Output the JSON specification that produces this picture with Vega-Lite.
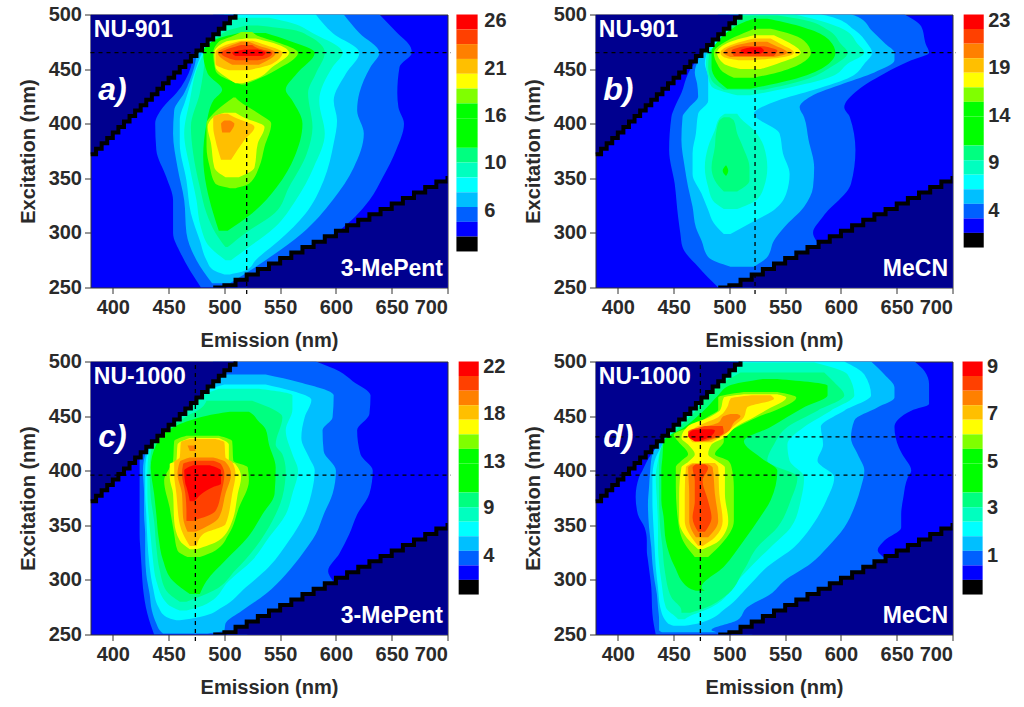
{"$schema":"https://vega.github.io/schema/vega-lite/v6.json","background":"white","padding":{"left":17.5,"top":3.5,"right":0,"bottom":0},
"config":{"view":{"fill":"#0000ff","stroke":"#333333","strokeWidth":1},"axis":{"grid":false,"domain":false,"labelFont":"Liberation Sans","titleFont":"Liberation Sans","labelFontWeight":"bold","titleFontWeight":"bold","labelFontSize":20,"titleFontSize":20,"labelColor":"#2a2a2a","titleColor":"#2a2a2a","tickColor":"#333333"},"text":{"font":"Liberation Sans"}},
"datasets":{
"ul":[{"em":380,"exc":372},{"em":385,"exc":377},{"em":390,"exc":382},{"em":395,"exc":387},{"em":400,"exc":392},{"em":405,"exc":397},{"em":410,"exc":402},{"em":415,"exc":407},{"em":420,"exc":412},{"em":425,"exc":417},{"em":430,"exc":422},{"em":435,"exc":427},{"em":440,"exc":432},{"em":445,"exc":437},{"em":450,"exc":442},{"em":455,"exc":447},{"em":460,"exc":452},{"em":465,"exc":457},{"em":470,"exc":462},{"em":475,"exc":467},{"em":480,"exc":472},{"em":485,"exc":477},{"em":490,"exc":482},{"em":495,"exc":487},{"em":500,"exc":492},{"em":505,"exc":497},{"em":510,"exc":502}],
"lr":[{"em":490,"exc":250},{"em":500,"exc":252},{"em":510,"exc":257},{"em":520,"exc":262},{"em":530,"exc":267},{"em":540,"exc":272},{"em":550,"exc":277},{"em":560,"exc":282},{"em":570,"exc":287},{"em":580,"exc":292},{"em":590,"exc":297},{"em":600,"exc":302},{"em":610,"exc":307},{"em":620,"exc":312},{"em":630,"exc":317},{"em":640,"exc":322},{"em":650,"exc":327},{"em":660,"exc":332},{"em":670,"exc":337},{"em":680,"exc":342},{"em":690,"exc":347},{"em":700,"exc":352}],
"bar237":[{"s":12,"hi":500,"lo":486.4},{"s":11,"hi":486.4,"lo":472.9},{"s":10,"hi":472.9,"lo":459.3},{"s":9,"hi":459.3,"lo":445.7},{"s":8,"hi":445.7,"lo":432.2},{"s":7,"hi":432.2,"lo":418.6},{"s":6,"hi":418.6,"lo":405},{"s":6,"hi":405,"lo":391.5},{"s":6,"hi":391.5,"lo":377.9},{"s":5,"hi":377.9,"lo":364.4},{"s":4,"hi":364.4,"lo":350.8},{"s":3,"hi":350.8,"lo":337.2},{"s":2,"hi":337.2,"lo":323.7},{"s":1,"hi":323.7,"lo":310.1},{"s":0.5,"hi":310.1,"lo":296.6},{"s":0,"hi":296.6,"lo":283}],
"bar233":[{"s":12,"hi":500,"lo":486.7},{"s":11,"hi":486.7,"lo":473.3},{"s":10,"hi":473.3,"lo":460},{"s":9,"hi":460,"lo":446.7},{"s":8,"hi":446.7,"lo":433.3},{"s":7,"hi":433.3,"lo":420},{"s":6,"hi":420,"lo":406.7},{"s":6,"hi":406.7,"lo":393.3},{"s":6,"hi":393.3,"lo":380},{"s":5,"hi":380,"lo":366.6},{"s":4,"hi":366.6,"lo":353.3},{"s":3,"hi":353.3,"lo":340},{"s":2,"hi":340,"lo":326.6},{"s":1,"hi":326.6,"lo":313.3},{"s":0.5,"hi":313.3,"lo":300},{"s":0,"hi":300,"lo":286.6}],
"a":[
{"s":1,"y":250,"lo":479,"hi":520},{"s":1,"y":281,"lo":461,"hi":570},{"s":1,"y":300,"lo":454,"hi":600},{"s":1,"y":330,"lo":454,"hi":630},{"s":1,"y":351,"lo":448,"hi":642},{"s":1,"y":376,"lo":439,"hi":654},{"s":1,"y":400,"lo":438,"hi":661},{"s":1,"y":415,"lo":445,"hi":656},{"s":1,"y":428,"lo":457,"hi":655},{"s":1,"y":452,"lo":470,"hi":657},{"s":1,"y":465,"lo":472,"hi":668},{"s":1,"y":470,"lo":475,"hi":667},{"s":1,"y":483,"lo":480,"hi":655},{"s":1,"y":500,"lo":490,"hi":639},
{"s":2,"y":254,"lo":489,"hi":505},{"s":2,"y":275,"lo":475,"hi":537},{"s":2,"y":300,"lo":466,"hi":570},{"s":2,"y":330,"lo":464,"hi":597},{"s":2,"y":360,"lo":458,"hi":616},{"s":2,"y":391,"lo":454,"hi":625},{"s":2,"y":412,"lo":455,"hi":619},{"s":2,"y":428,"lo":464,"hi":621},{"s":2,"y":452,"lo":473,"hi":631},{"s":2,"y":465,"lo":476,"hi":639},{"s":2,"y":483,"lo":485,"hi":621},{"s":2,"y":500,"lo":495,"hi":607},
{"s":3,"y":262,"lo":500,"hi":505},{"s":3,"y":266,"lo":490,"hi":520},{"s":3,"y":275,"lo":484,"hi":528},{"s":3,"y":293,"lo":478,"hi":549},{"s":3,"y":318,"lo":470,"hi":573},{"s":3,"y":348,"lo":466,"hi":589},{"s":3,"y":382,"lo":460,"hi":598},{"s":3,"y":403,"lo":460,"hi":601},{"s":3,"y":421,"lo":465,"hi":598},{"s":3,"y":446,"lo":473,"hi":609},{"s":3,"y":465,"lo":480,"hi":621},{"s":3,"y":483,"lo":490,"hi":597},{"s":3,"y":500,"lo":500,"hi":582},
{"s":4,"y":275,"lo":501,"hi":506},{"s":4,"y":287,"lo":487,"hi":522},{"s":4,"y":305,"lo":479,"hi":545},{"s":4,"y":330,"lo":475,"hi":564},{"s":4,"y":360,"lo":469,"hi":580},{"s":4,"y":391,"lo":464,"hi":590},{"s":4,"y":421,"lo":469,"hi":585},{"s":4,"y":452,"lo":476,"hi":597},{"s":4,"y":465,"lo":482,"hi":606},{"s":4,"y":483,"lo":495,"hi":579},{"s":4,"y":492,"lo":500,"hi":561},{"s":4,"y":497,"lo":505,"hi":540},
{"s":5,"y":287,"lo":501,"hi":503},{"s":5,"y":300,"lo":492,"hi":519},{"s":5,"y":318,"lo":484,"hi":545},{"s":5,"y":342,"lo":478,"hi":558},{"s":5,"y":373,"lo":472,"hi":574},{"s":5,"y":397,"lo":470,"hi":579},{"s":5,"y":428,"lo":478,"hi":575},{"s":5,"y":446,"lo":481,"hi":582},{"s":5,"y":465,"lo":484,"hi":590},{"s":5,"y":480,"lo":495,"hi":576},{"s":5,"y":486,"lo":505,"hi":561},{"s":5,"y":490,"lo":520,"hi":530},
{"s":6,"y":302,"lo":495,"hi":503},{"s":6,"y":318,"lo":490,"hi":525},{"s":6,"y":342,"lo":484,"hi":547},{"s":6,"y":370,"lo":481,"hi":563},{"s":6,"y":400,"lo":484,"hi":570},{"s":6,"y":421,"lo":490,"hi":561},{"s":6,"y":431,"lo":498,"hi":555},{"s":6,"y":446,"lo":485,"hi":565},{"s":6,"y":465,"lo":481,"hi":581},{"s":6,"y":476,"lo":490,"hi":558},{"s":6,"y":483,"lo":513,"hi":537},
{"s":7,"y":436,"lo":515,"hi":518},{"s":7,"y":440,"lo":504,"hi":528},{"s":7,"y":449,"lo":492,"hi":546},{"s":7,"y":465,"lo":490,"hi":566},{"s":7,"y":475,"lo":495,"hi":546},{"s":7,"y":480,"lo":507,"hi":531},{"s":7,"y":484,"lo":515,"hi":525},
{"s":7.5,"y":341,"lo":505,"hi":510},{"s":7.5,"y":345,"lo":492,"hi":522},{"s":7.5,"y":360,"lo":487,"hi":531},{"s":7.5,"y":379,"lo":484,"hi":536},{"s":7.5,"y":400,"lo":484,"hi":542},{"s":7.5,"y":409,"lo":490,"hi":531},{"s":7.5,"y":421,"lo":504,"hi":513},{"s":7.5,"y":424,"lo":508,"hi":510},
{"s":8,"y":437,"lo":510,"hi":516},{"s":8,"y":441,"lo":504,"hi":528},{"s":8,"y":452,"lo":492,"hi":543},{"s":8,"y":465,"lo":491,"hi":558},{"s":8,"y":475,"lo":501,"hi":540},{"s":8,"y":478,"lo":519,"hi":528},
{"s":8.5,"y":351,"lo":501,"hi":513},{"s":8.5,"y":360,"lo":491,"hi":527},{"s":8.5,"y":382,"lo":488,"hi":530},{"s":8.5,"y":397,"lo":485,"hi":536},{"s":8.5,"y":406,"lo":490,"hi":517},{"s":8.5,"y":410,"lo":500,"hi":510},
{"s":9,"y":449,"lo":504,"hi":521},{"s":9,"y":455,"lo":492,"hi":543},{"s":9,"y":465,"lo":492,"hi":552},{"s":9,"y":473,"lo":504,"hi":534},{"s":9,"y":476,"lo":515,"hi":525},
{"s":9.5,"y":367,"lo":497,"hi":506},{"s":9.5,"y":385,"lo":492,"hi":518},{"s":9.5,"y":397,"lo":490,"hi":527},{"s":9.5,"y":406,"lo":490,"hi":509},{"s":9.5,"y":409,"lo":497,"hi":503},
{"s":10,"y":454,"lo":507,"hi":531},{"s":10,"y":465,"lo":494,"hi":546},{"s":10,"y":472,"lo":507,"hi":529},{"s":10,"y":475,"lo":515,"hi":522},
{"s":10.5,"y":392,"lo":498,"hi":505},{"s":10.5,"y":400,"lo":497,"hi":509},{"s":10.5,"y":403,"lo":500,"hi":505},
{"s":11,"y":458,"lo":510,"hi":530},{"s":11,"y":461,"lo":501,"hi":540},{"s":11,"y":465,"lo":497,"hi":543},{"s":11,"y":469,"lo":505,"hi":530},{"s":11,"y":472,"lo":515,"hi":525},
{"s":12,"y":462,"lo":510,"hi":534},{"s":12,"y":465,"lo":507,"hi":537},{"s":12,"y":468,"lo":518,"hi":530}],
"b":[
{"s":1,"y":250,"lo":490,"hi":520},{"s":1,"y":269,"lo":472,"hi":560},{"s":1,"y":287,"lo":458,"hi":580},{"s":1,"y":300,"lo":456,"hi":575},{"s":1,"y":315,"lo":454,"hi":584},{"s":1,"y":345,"lo":451,"hi":609},{"s":1,"y":376,"lo":446,"hi":613},{"s":1,"y":406,"lo":448,"hi":608},{"s":1,"y":415,"lo":451,"hi":603},{"s":1,"y":428,"lo":457,"hi":612},{"s":1,"y":446,"lo":463,"hi":639},{"s":1,"y":458,"lo":470,"hi":663},{"s":1,"y":465,"lo":472,"hi":679},{"s":1,"y":473,"lo":475,"hi":676},{"s":1,"y":489,"lo":480,"hi":672},{"s":1,"y":500,"lo":490,"hi":657},
{"s":2,"y":269,"lo":501,"hi":522},{"s":2,"y":278,"lo":481,"hi":534},{"s":2,"y":293,"lo":475,"hi":540},{"s":2,"y":305,"lo":470,"hi":549},{"s":2,"y":324,"lo":467,"hi":567},{"s":2,"y":342,"lo":463,"hi":575},{"s":2,"y":360,"lo":460,"hi":576},{"s":2,"y":385,"lo":457,"hi":571},{"s":2,"y":406,"lo":458,"hi":567},{"s":2,"y":415,"lo":464,"hi":563},{"s":2,"y":425,"lo":472,"hi":573},{"s":2,"y":437,"lo":471,"hi":603},{"s":2,"y":447,"lo":469,"hi":630},{"s":2,"y":458,"lo":472,"hi":648},{"s":2,"y":465,"lo":475,"hi":648},{"s":2,"y":473,"lo":480,"hi":640},{"s":2,"y":485,"lo":485,"hi":628},{"s":2,"y":498,"lo":490,"hi":615},{"s":2,"y":500,"lo":490,"hi":609},
{"s":3,"y":299,"lo":495,"hi":501},{"s":3,"y":309,"lo":486,"hi":519},{"s":3,"y":321,"lo":481,"hi":540},{"s":3,"y":336,"lo":475,"hi":551},{"s":3,"y":354,"lo":467,"hi":554},{"s":3,"y":373,"lo":467,"hi":548},{"s":3,"y":391,"lo":470,"hi":545},{"s":3,"y":409,"lo":472,"hi":522},{"s":3,"y":421,"lo":481,"hi":543},{"s":3,"y":431,"lo":481,"hi":576},{"s":3,"y":443,"lo":481,"hi":609},{"s":3,"y":455,"lo":478,"hi":621},{"s":3,"y":465,"lo":480,"hi":628},{"s":3,"y":473,"lo":485,"hi":624},{"s":3,"y":486,"lo":490,"hi":612},{"s":3,"y":498,"lo":500,"hi":591},{"s":3,"y":500,"lo":500,"hi":582},
{"s":4,"y":322,"lo":495,"hi":507},{"s":4,"y":330,"lo":485,"hi":524},{"s":4,"y":342,"lo":481,"hi":531},{"s":4,"y":360,"lo":478,"hi":534},{"s":4,"y":379,"lo":481,"hi":531},{"s":4,"y":394,"lo":487,"hi":522},{"s":4,"y":405,"lo":491,"hi":510},{"s":4,"y":409,"lo":496,"hi":507},
{"s":4.5,"y":426,"lo":507,"hi":519},{"s":4.5,"y":434,"lo":484,"hi":558},{"s":4.5,"y":443,"lo":481,"hi":591},{"s":4.5,"y":455,"lo":479,"hi":606},{"s":4.5,"y":465,"lo":480,"hi":621},{"s":4.5,"y":473,"lo":490,"hi":615},{"s":4.5,"y":486,"lo":495,"hi":603},{"s":4.5,"y":495,"lo":505,"hi":579},{"s":4.5,"y":500,"lo":510,"hi":558},
{"s":5,"y":338,"lo":495,"hi":507},{"s":5,"y":348,"lo":487,"hi":518},{"s":5,"y":360,"lo":484,"hi":518},{"s":5,"y":379,"lo":487,"hi":512},{"s":5,"y":391,"lo":488,"hi":507},{"s":5,"y":403,"lo":491,"hi":504},{"s":5,"y":406,"lo":495,"hi":500},
{"s":5.5,"y":431,"lo":495,"hi":531},{"s":5.5,"y":440,"lo":484,"hi":567},{"s":5.5,"y":452,"lo":481,"hi":591},{"s":5.5,"y":465,"lo":482,"hi":606},{"s":5.5,"y":473,"lo":490,"hi":600},{"s":5.5,"y":486,"lo":500,"hi":588},{"s":5.5,"y":495,"lo":508,"hi":567},{"s":5.5,"y":499,"lo":510,"hi":543},
{"s":6,"y":352,"lo":497,"hi":497},{"s":6,"y":357,"lo":494,"hi":499},{"s":6,"y":362,"lo":497,"hi":497},
{"s":6.5,"y":432,"lo":498,"hi":519},{"s":6.5,"y":440,"lo":489,"hi":555},{"s":6.5,"y":452,"lo":484,"hi":585},{"s":6.5,"y":465,"lo":484,"hi":595},{"s":6.5,"y":476,"lo":490,"hi":590},{"s":6.5,"y":486,"lo":501,"hi":573},{"s":6.5,"y":493,"lo":513,"hi":549},{"s":6.5,"y":496,"lo":522,"hi":534},
{"s":7,"y":442,"lo":504,"hi":522},{"s":7,"y":447,"lo":495,"hi":543},{"s":7,"y":455,"lo":489,"hi":564},{"s":7,"y":465,"lo":486,"hi":573},{"s":7,"y":476,"lo":498,"hi":567},{"s":7,"y":483,"lo":513,"hi":552},{"s":7,"y":487,"lo":522,"hi":537},
{"s":8,"y":450,"lo":510,"hi":528},{"s":8,"y":455,"lo":495,"hi":543},{"s":8,"y":465,"lo":489,"hi":564},{"s":8,"y":475,"lo":501,"hi":552},{"s":8,"y":481,"lo":522,"hi":540},
{"s":9,"y":458,"lo":508,"hi":520},{"s":9,"y":461,"lo":495,"hi":549},{"s":9,"y":465,"lo":492,"hi":558},{"s":9,"y":473,"lo":504,"hi":546},{"s":9,"y":478,"lo":522,"hi":537},
{"s":10,"y":461,"lo":501,"hi":540},{"s":10,"y":465,"lo":495,"hi":552},{"s":10,"y":472,"lo":507,"hi":540},{"s":10,"y":475,"lo":522,"hi":534},
{"s":11,"y":462,"lo":504,"hi":540},{"s":11,"y":467,"lo":502,"hi":543},{"s":11,"y":471,"lo":513,"hi":531},
{"s":12,"y":464,"lo":513,"hi":528},{"s":12,"y":467,"lo":510,"hi":531},{"s":12,"y":470,"lo":519,"hi":528}],
"c":[
{"s":1,"y":250,"lo":437,"hi":520},{"s":1,"y":269,"lo":431,"hi":560},{"s":1,"y":293,"lo":427,"hi":600},{"s":1,"y":308,"lo":426,"hi":593},{"s":1,"y":324,"lo":425,"hi":603},{"s":1,"y":342,"lo":424,"hi":612},{"s":1,"y":360,"lo":424,"hi":619},{"s":1,"y":379,"lo":424,"hi":630},{"s":1,"y":400,"lo":424,"hi":633},{"s":1,"y":415,"lo":424,"hi":622},{"s":1,"y":437,"lo":430,"hi":619},{"s":1,"y":452,"lo":440,"hi":630},{"s":1,"y":469,"lo":460,"hi":631},{"s":1,"y":482,"lo":470,"hi":615},{"s":1,"y":491,"lo":480,"hi":603},{"s":1,"y":500,"lo":490,"hi":582},
{"s":2,"y":251,"lo":445,"hi":485},{"s":2,"y":254,"lo":442,"hi":500},{"s":2,"y":260,"lo":439,"hi":501},{"s":2,"y":272,"lo":435,"hi":516},{"s":2,"y":287,"lo":433,"hi":537},{"s":2,"y":305,"lo":430,"hi":555},{"s":2,"y":324,"lo":429,"hi":570},{"s":2,"y":342,"lo":429,"hi":582},{"s":2,"y":360,"lo":428,"hi":589},{"s":2,"y":379,"lo":428,"hi":597},{"s":2,"y":400,"lo":427,"hi":600},{"s":2,"y":418,"lo":430,"hi":589},{"s":2,"y":437,"lo":440,"hi":588},{"s":2,"y":449,"lo":450,"hi":597},{"s":2,"y":469,"lo":470,"hi":598},{"s":2,"y":481,"lo":480,"hi":567},{"s":2,"y":488,"lo":490,"hi":537},
{"s":3,"y":263,"lo":457,"hi":460},{"s":3,"y":266,"lo":448,"hi":478},{"s":3,"y":275,"lo":441,"hi":498},{"s":3,"y":293,"lo":436,"hi":519},{"s":3,"y":312,"lo":433,"hi":540},{"s":3,"y":336,"lo":431,"hi":558},{"s":3,"y":360,"lo":430,"hi":572},{"s":3,"y":379,"lo":429,"hi":578},{"s":3,"y":400,"lo":429,"hi":581},{"s":3,"y":412,"lo":430,"hi":576},{"s":3,"y":430,"lo":440,"hi":569},{"s":3,"y":449,"lo":455,"hi":572},{"s":3,"y":465,"lo":470,"hi":578},{"s":3,"y":473,"lo":480,"hi":561},{"s":3,"y":479,"lo":500,"hi":537},
{"s":4,"y":272,"lo":460,"hi":466},{"s":4,"y":278,"lo":449,"hi":484},{"s":4,"y":299,"lo":439,"hi":504},{"s":4,"y":318,"lo":436,"hi":525},{"s":4,"y":339,"lo":434,"hi":540},{"s":4,"y":360,"lo":432,"hi":555},{"s":4,"y":379,"lo":431,"hi":561},{"s":4,"y":400,"lo":431,"hi":566},{"s":4,"y":415,"lo":432,"hi":561},{"s":4,"y":437,"lo":445,"hi":555},{"s":4,"y":456,"lo":465,"hi":561},{"s":4,"y":469,"lo":480,"hi":561},{"s":4,"y":475,"lo":495,"hi":531},
{"s":5,"y":280,"lo":460,"hi":466},{"s":5,"y":290,"lo":448,"hi":490},{"s":5,"y":309,"lo":442,"hi":510},{"s":5,"y":330,"lo":439,"hi":528},{"s":5,"y":354,"lo":437,"hi":543},{"s":5,"y":376,"lo":434,"hi":552},{"s":5,"y":400,"lo":433,"hi":555},{"s":5,"y":415,"lo":434,"hi":552},{"s":5,"y":424,"lo":436,"hi":546},{"s":5,"y":449,"lo":465,"hi":552},{"s":5,"y":458,"lo":480,"hi":540},{"s":5,"y":464,"lo":484,"hi":525},
{"s":6,"y":287,"lo":469,"hi":478},{"s":6,"y":299,"lo":454,"hi":484},{"s":6,"y":318,"lo":445,"hi":501},{"s":6,"y":339,"lo":441,"hi":521},{"s":6,"y":360,"lo":439,"hi":534},{"s":6,"y":379,"lo":437,"hi":545},{"s":6,"y":403,"lo":434,"hi":546},{"s":6,"y":424,"lo":439,"hi":540},{"s":6,"y":438,"lo":451,"hi":537},{"s":6,"y":446,"lo":469,"hi":530},{"s":6,"y":452,"lo":492,"hi":525},{"s":6,"y":454,"lo":505,"hi":522},
{"s":7,"y":321,"lo":467,"hi":478},{"s":7,"y":327,"lo":458,"hi":492},{"s":7,"y":342,"lo":455,"hi":504},{"s":7,"y":366,"lo":451,"hi":513},{"s":7,"y":391,"lo":446,"hi":522},{"s":7,"y":403,"lo":451,"hi":521},{"s":7,"y":409,"lo":454,"hi":508},{"s":7,"y":427,"lo":455,"hi":507},{"s":7,"y":432,"lo":466,"hi":495},
{"s":8,"y":328,"lo":469,"hi":475},{"s":8,"y":336,"lo":460,"hi":495},{"s":8,"y":354,"lo":455,"hi":507},{"s":8,"y":379,"lo":454,"hi":512},{"s":8,"y":394,"lo":451,"hi":515},{"s":8,"y":406,"lo":451,"hi":510},{"s":8,"y":409,"lo":457,"hi":504},{"s":8,"y":424,"lo":458,"hi":504},{"s":8,"y":430,"lo":469,"hi":495},
{"s":9,"y":331,"lo":469,"hi":475},{"s":9,"y":342,"lo":463,"hi":481},{"s":9,"y":351,"lo":460,"hi":501},{"s":9,"y":379,"lo":457,"hi":507},{"s":9,"y":397,"lo":455,"hi":510},{"s":9,"y":408,"lo":455,"hi":507},{"s":9,"y":412,"lo":460,"hi":501},{"s":9,"y":426,"lo":461,"hi":500},{"s":9,"y":429,"lo":469,"hi":492},
{"s":10,"y":344,"lo":467,"hi":474},{"s":10,"y":357,"lo":463,"hi":495},{"s":10,"y":379,"lo":462,"hi":501},{"s":10,"y":397,"lo":458,"hi":506},{"s":10,"y":408,"lo":460,"hi":501},{"s":10,"y":412,"lo":469,"hi":490},
{"s":10.5,"y":418,"lo":469,"hi":474},{"s":10.5,"y":423,"lo":467,"hi":474},
{"s":11,"y":354,"lo":466,"hi":472},{"s":11,"y":363,"lo":466,"hi":492},{"s":11,"y":379,"lo":465,"hi":497},{"s":11,"y":397,"lo":462,"hi":500},{"s":11,"y":406,"lo":463,"hi":497},{"s":11,"y":409,"lo":472,"hi":490},
{"s":12,"y":372,"lo":469,"hi":473},{"s":12,"y":385,"lo":466,"hi":490},{"s":12,"y":388,"lo":465,"hi":497},{"s":12,"y":400,"lo":464,"hi":497},{"s":12,"y":405,"lo":472,"hi":487}],
"d":[
{"s":1,"y":250,"lo":434,"hi":520},{"s":1,"y":269,"lo":431,"hi":560},{"s":1,"y":293,"lo":430,"hi":600},{"s":1,"y":318,"lo":427,"hi":640},{"s":1,"y":327,"lo":426,"hi":633},{"s":1,"y":336,"lo":426,"hi":639},{"s":1,"y":348,"lo":424,"hi":654},{"s":1,"y":360,"lo":418,"hi":654},{"s":1,"y":376,"lo":416,"hi":656},{"s":1,"y":394,"lo":419,"hi":660},{"s":1,"y":400,"lo":422,"hi":663},{"s":1,"y":415,"lo":430,"hi":655},{"s":1,"y":421,"lo":435,"hi":652},{"s":1,"y":440,"lo":450,"hi":648},{"s":1,"y":455,"lo":460,"hi":663},{"s":1,"y":461,"lo":465,"hi":679},{"s":1,"y":479,"lo":470,"hi":679},{"s":1,"y":491,"lo":480,"hi":675},{"s":1,"y":500,"lo":490,"hi":666},
{"s":2,"y":252,"lo":440,"hi":490},{"s":2,"y":254,"lo":437,"hi":484},{"s":2,"y":263,"lo":437,"hi":507},{"s":2,"y":275,"lo":436,"hi":516},{"s":2,"y":287,"lo":435,"hi":537},{"s":2,"y":299,"lo":433,"hi":549},{"s":2,"y":315,"lo":431,"hi":573},{"s":2,"y":330,"lo":430,"hi":588},{"s":2,"y":348,"lo":428,"hi":603},{"s":2,"y":369,"lo":427,"hi":613},{"s":2,"y":385,"lo":428,"hi":618},{"s":2,"y":400,"lo":429,"hi":621},{"s":2,"y":415,"lo":431,"hi":615},{"s":2,"y":430,"lo":440,"hi":609},{"s":2,"y":446,"lo":450,"hi":612},{"s":2,"y":458,"lo":460,"hi":633},{"s":2,"y":467,"lo":470,"hi":648},{"s":2,"y":476,"lo":470,"hi":648},{"s":2,"y":488,"lo":480,"hi":639},{"s":2,"y":500,"lo":490,"hi":627},
{"s":3,"y":258,"lo":450,"hi":460},{"s":3,"y":260,"lo":445,"hi":472},{"s":3,"y":275,"lo":438,"hi":498},{"s":3,"y":293,"lo":436,"hi":516},{"s":3,"y":312,"lo":434,"hi":534},{"s":3,"y":330,"lo":433,"hi":558},{"s":3,"y":348,"lo":432,"hi":573},{"s":3,"y":373,"lo":431,"hi":587},{"s":3,"y":394,"lo":431,"hi":594},{"s":3,"y":409,"lo":433,"hi":579},{"s":3,"y":424,"lo":440,"hi":584},{"s":3,"y":440,"lo":450,"hi":582},{"s":3,"y":455,"lo":465,"hi":603},{"s":3,"y":469,"lo":470,"hi":627},{"s":3,"y":488,"lo":490,"hi":621},{"s":3,"y":500,"lo":500,"hi":603},
{"s":4,"y":264,"lo":454,"hi":460},{"s":4,"y":266,"lo":452,"hi":463},{"s":4,"y":275,"lo":443,"hi":484},{"s":4,"y":299,"lo":439,"hi":507},{"s":4,"y":315,"lo":437,"hi":522},{"s":4,"y":330,"lo":436,"hi":537},{"s":4,"y":348,"lo":436,"hi":555},{"s":4,"y":373,"lo":435,"hi":564},{"s":4,"y":394,"lo":434,"hi":567},{"s":4,"y":409,"lo":436,"hi":554},{"s":4,"y":424,"lo":440,"hi":552},{"s":4,"y":440,"lo":452,"hi":567},{"s":4,"y":455,"lo":468,"hi":591},{"s":4,"y":469,"lo":480,"hi":612},{"s":4,"y":488,"lo":495,"hi":606},{"s":4,"y":499,"lo":510,"hi":576},
{"s":5,"y":270,"lo":457,"hi":465},{"s":5,"y":272,"lo":457,"hi":472},{"s":5,"y":284,"lo":448,"hi":495},{"s":5,"y":309,"lo":442,"hi":513},{"s":5,"y":330,"lo":440,"hi":525},{"s":5,"y":348,"lo":438,"hi":543},{"s":5,"y":373,"lo":437,"hi":555},{"s":5,"y":394,"lo":437,"hi":561},{"s":5,"y":409,"lo":437,"hi":534},{"s":5,"y":424,"lo":440,"hi":540},{"s":5,"y":440,"lo":455,"hi":552},{"s":5,"y":455,"lo":470,"hi":579},{"s":5,"y":469,"lo":480,"hi":603},{"s":5,"y":481,"lo":495,"hi":594},{"s":5,"y":490,"lo":510,"hi":585},
{"s":6,"y":290,"lo":470,"hi":478},{"s":6,"y":293,"lo":463,"hi":475},{"s":6,"y":312,"lo":451,"hi":495},{"s":6,"y":336,"lo":443,"hi":513},{"s":6,"y":358,"lo":441,"hi":528},{"s":6,"y":373,"lo":439,"hi":537},{"s":6,"y":400,"lo":439,"hi":543},{"s":6,"y":412,"lo":440,"hi":528},{"s":6,"y":427,"lo":441,"hi":513},{"s":6,"y":440,"lo":460,"hi":537},{"s":6,"y":458,"lo":480,"hi":567},{"s":6,"y":469,"lo":490,"hi":588},{"s":6,"y":478,"lo":500,"hi":588},{"s":6,"y":484,"lo":530,"hi":543},
{"s":7,"y":321,"lo":469,"hi":481},{"s":7,"y":333,"lo":460,"hi":493},{"s":7,"y":354,"lo":454,"hi":504},{"s":7,"y":385,"lo":452,"hi":504},{"s":7,"y":403,"lo":452,"hi":502},{"s":7,"y":409,"lo":457,"hi":499},{"s":7,"y":415,"lo":463,"hi":487},{"s":7,"y":427,"lo":454,"hi":495},{"s":7,"y":433,"lo":450,"hi":495},{"s":7,"y":440,"lo":465,"hi":507},{"s":7,"y":449,"lo":480,"hi":525},{"s":7,"y":456,"lo":490,"hi":543},{"s":7,"y":467,"lo":490,"hi":560},{"s":7,"y":472,"lo":513,"hi":543},
{"s":8,"y":328,"lo":472,"hi":476},{"s":8,"y":336,"lo":464,"hi":491},{"s":8,"y":354,"lo":455,"hi":499},{"s":8,"y":379,"lo":455,"hi":496},{"s":8,"y":403,"lo":457,"hi":496},{"s":8,"y":408,"lo":463,"hi":490},{"s":8,"y":415,"lo":469,"hi":481},{"s":8,"y":424,"lo":463,"hi":484},{"s":8,"y":430,"lo":457,"hi":495},{"s":8,"y":441,"lo":463,"hi":507},{"s":8,"y":449,"lo":482,"hi":522},{"s":8,"y":456,"lo":492,"hi":534},{"s":8,"y":467,"lo":495,"hi":551},{"s":8,"y":470,"lo":513,"hi":543},
{"s":9,"y":331,"lo":472,"hi":476},{"s":9,"y":339,"lo":466,"hi":487},{"s":9,"y":354,"lo":460,"hi":494},{"s":9,"y":379,"lo":460,"hi":491},{"s":9,"y":403,"lo":461,"hi":490},{"s":9,"y":407,"lo":467,"hi":487},
{"s":9.5,"y":426,"lo":467,"hi":484},{"s":9.5,"y":433,"lo":463,"hi":495},{"s":9.5,"y":441,"lo":472,"hi":504},{"s":9.5,"y":449,"lo":490,"hi":513},{"s":9.5,"y":458,"lo":498,"hi":516},{"s":9.5,"y":466,"lo":501,"hi":540},{"s":9.5,"y":469,"lo":520,"hi":537},
{"s":10,"y":339,"lo":470,"hi":481},{"s":10,"y":354,"lo":464,"hi":490},{"s":10,"y":379,"lo":464,"hi":487},{"s":10,"y":403,"lo":463,"hi":485},{"s":10,"y":406,"lo":467,"hi":481},
{"s":10.5,"y":427,"lo":469,"hi":481},{"s":10.5,"y":436,"lo":463,"hi":499},{"s":10.5,"y":444,"lo":490,"hi":504},{"s":10.5,"y":450,"lo":495,"hi":510},{"s":10.5,"y":452,"lo":501,"hi":507},
{"s":11,"y":344,"lo":472,"hi":478},{"s":11,"y":357,"lo":467,"hi":484},{"s":11,"y":372,"lo":469,"hi":481},{"s":11,"y":391,"lo":469,"hi":476},{"s":11,"y":403,"lo":467,"hi":481},{"s":11,"y":406,"lo":470,"hi":478},
{"s":11.5,"y":427,"lo":469,"hi":476},{"s":11.5,"y":435,"lo":463,"hi":495},{"s":11.5,"y":441,"lo":478,"hi":494},
{"s":12,"y":427,"lo":469,"hi":473},{"s":12,"y":432,"lo":463,"hi":484},{"s":12,"y":437,"lo":467,"hi":487},{"s":12,"y":438,"lo":476,"hi":484}]
},
"columns":2,"spacing":{"row":74,"column":148},"bounds":"flush",
"concat":[
{"width":357,"height":273,"layer":[
{"data":{"name":"a"},"mark":{"type":"area","orient":"horizontal","interpolate":"monotone","clip":true},"encoding":{"y":{"field":"y","type":"quantitative","scale":{"domain":[250,500],"nice":false,"zero":false},"axis":{"values":[250,275,300,325,350,375,400,425,450,475,500],"labelExpr":"datum.value%50==0?datum.label:''","tickSize":{"expr":"datum.value%50==0?6:3"},"title":"Excitation (nm)","titlePadding":10,"labelPadding":3}},"x":{"field":"lo","type":"quantitative","scale":{"domain":[380,700],"nice":false,"zero":false},"axis":{"values":[400,425,450,475,500,525,550,575,600,625,650,675,700],"labelExpr":"datum.value%50==0?datum.label:''","tickSize":{"expr":"datum.value%50==0?6:3"},"title":"Emission (nm)","titlePadding":13,"labelPadding":4}},"x2":{"field":"hi"},"color":{"field":"s","type":"nominal","legend":null,"scale":{"domain":[0,0.5,1,2,3,4,4.5,5,5.5,6,6.5,7,7.5,8,8.5,9,9.5,10,10.5,11,11.5,12],"range":["#000000","#0000ff","#0060ff","#00bfff","#00ffff","#00ffbf","#00ffbf","#00ff80","#00ff80","#00ff00","#00ff00","#80ff00","#80ff00","#ffff00","#ffff00","#ffbf00","#ffbf00","#ff8000","#ff8000","#ff4000","#ff4000","#ff0000"]}}}},
{"data":{"name":"ul"},"mark":{"type":"area","interpolate":"step-after","color":"#00008f","clip":true},"encoding":{"x":{"field":"em","type":"quantitative"},"y":{"field":"exc","type":"quantitative"},"y2":{"datum":500}}},
{"data":{"name":"lr"},"mark":{"type":"area","interpolate":"step-after","color":"#00008f","clip":true},"encoding":{"x":{"field":"em","type":"quantitative"},"y":{"field":"exc","type":"quantitative"},"y2":{"datum":250}}},
{"data":{"name":"ul"},"mark":{"type":"line","interpolate":"step-after","color":"#000000","strokeWidth":4,"clip":true},"encoding":{"x":{"field":"em","type":"quantitative"},"y":{"field":"exc","type":"quantitative"}}},
{"data":{"name":"lr"},"mark":{"type":"line","interpolate":"step-after","color":"#000000","strokeWidth":4,"clip":true},"encoding":{"x":{"field":"em","type":"quantitative"},"y":{"field":"exc","type":"quantitative"}}},
{"data":{"values":[{"em":520,"a":244,"b":500}]},"mark":{"type":"rule","color":"#000000","strokeWidth":1.3,"strokeDash":[4,4]},"encoding":{"x":{"field":"em","type":"quantitative"},"y":{"field":"a","type":"quantitative"},"y2":{"field":"b"}}},
{"data":{"values":[{"exc":465,"a":380,"b":703}]},"mark":{"type":"rule","color":"#000000","strokeWidth":1.3,"strokeDash":[4,4]},"encoding":{"y":{"field":"exc","type":"quantitative"},"x":{"field":"a","type":"quantitative"},"x2":{"field":"b"}}},
{"data":{"values":[{"em":383,"exc":486,"t":"NU-901"}]},"mark":{"type":"text","align":"left","baseline":"middle","color":"white","fontWeight":"bold","fontSize":23},"encoding":{"x":{"field":"em","type":"quantitative"},"y":{"field":"exc","type":"quantitative"},"text":{"field":"t"}}},
{"data":{"values":[{"em":387,"exc":431,"t":"a)"}]},"mark":{"type":"text","align":"left","baseline":"middle","color":"white","fontWeight":"bold","fontStyle":"italic","fontSize":32},"encoding":{"x":{"field":"em","type":"quantitative"},"y":{"field":"exc","type":"quantitative"},"text":{"field":"t"}}},
{"data":{"values":[{"em":696,"exc":267,"t":"3-MePent"}]},"mark":{"type":"text","align":"right","baseline":"middle","color":"white","fontWeight":"bold","fontSize":23},"encoding":{"x":{"field":"em","type":"quantitative"},"y":{"field":"exc","type":"quantitative"},"text":{"field":"t"}}},
{"data":{"name":"bar237"},"mark":{"type":"rect"},"encoding":{"x":{"datum":708},"x2":{"datum":727},"y":{"field":"lo","type":"quantitative"},"y2":{"field":"hi"},"color":{"field":"s","type":"nominal","legend":null}}},
{"data":{"values":[{"x":733,"y":494.5,"t":"26"},{"x":733,"y":450.5,"t":"21"},{"x":733,"y":406.6,"t":"16"},{"x":733,"y":363.6,"t":"10"},{"x":733,"y":319.6,"t":"6"}]},"mark":{"type":"text","align":"left","baseline":"middle","color":"#2a2a2a","fontWeight":"bold","fontSize":20},"encoding":{"x":{"field":"x","type":"quantitative"},"y":{"field":"y","type":"quantitative"},"text":{"field":"t"}}}
]},
{"width":357,"height":273,"layer":[
{"data":{"name":"b"},"mark":{"type":"area","orient":"horizontal","interpolate":"monotone","clip":true},"encoding":{"y":{"field":"y","type":"quantitative","scale":{"domain":[250,500],"nice":false,"zero":false},"axis":{"values":[250,275,300,325,350,375,400,425,450,475,500],"labelExpr":"datum.value%50==0?datum.label:''","tickSize":{"expr":"datum.value%50==0?6:3"},"title":"Excitation (nm)","titlePadding":10,"labelPadding":3}},"x":{"field":"lo","type":"quantitative","scale":{"domain":[380,700],"nice":false,"zero":false},"axis":{"values":[400,425,450,475,500,525,550,575,600,625,650,675,700],"labelExpr":"datum.value%50==0?datum.label:''","tickSize":{"expr":"datum.value%50==0?6:3"},"title":"Emission (nm)","titlePadding":13,"labelPadding":4}},"x2":{"field":"hi"},"color":{"field":"s","type":"nominal","legend":null,"scale":{"domain":[0,0.5,1,2,3,4,4.5,5,5.5,6,6.5,7,7.5,8,8.5,9,9.5,10,10.5,11,11.5,12],"range":["#000000","#0000ff","#0060ff","#00bfff","#00ffff","#00ffbf","#00ffbf","#00ff80","#00ff80","#00ff00","#00ff00","#80ff00","#80ff00","#ffff00","#ffff00","#ffbf00","#ffbf00","#ff8000","#ff8000","#ff4000","#ff4000","#ff0000"]}}}},
{"data":{"name":"ul"},"mark":{"type":"area","interpolate":"step-after","color":"#00008f","clip":true},"encoding":{"x":{"field":"em","type":"quantitative"},"y":{"field":"exc","type":"quantitative"},"y2":{"datum":500}}},
{"data":{"name":"lr"},"mark":{"type":"area","interpolate":"step-after","color":"#00008f","clip":true},"encoding":{"x":{"field":"em","type":"quantitative"},"y":{"field":"exc","type":"quantitative"},"y2":{"datum":250}}},
{"data":{"name":"ul"},"mark":{"type":"line","interpolate":"step-after","color":"#000000","strokeWidth":4,"clip":true},"encoding":{"x":{"field":"em","type":"quantitative"},"y":{"field":"exc","type":"quantitative"}}},
{"data":{"name":"lr"},"mark":{"type":"line","interpolate":"step-after","color":"#000000","strokeWidth":4,"clip":true},"encoding":{"x":{"field":"em","type":"quantitative"},"y":{"field":"exc","type":"quantitative"}}},
{"data":{"values":[{"em":523,"a":244,"b":500}]},"mark":{"type":"rule","color":"#000000","strokeWidth":1.3,"strokeDash":[4,4]},"encoding":{"x":{"field":"em","type":"quantitative"},"y":{"field":"a","type":"quantitative"},"y2":{"field":"b"}}},
{"data":{"values":[{"exc":465,"a":380,"b":703}]},"mark":{"type":"rule","color":"#000000","strokeWidth":1.3,"strokeDash":[4,4]},"encoding":{"y":{"field":"exc","type":"quantitative"},"x":{"field":"a","type":"quantitative"},"x2":{"field":"b"}}},
{"data":{"values":[{"em":383,"exc":486,"t":"NU-901"}]},"mark":{"type":"text","align":"left","baseline":"middle","color":"white","fontWeight":"bold","fontSize":23},"encoding":{"x":{"field":"em","type":"quantitative"},"y":{"field":"exc","type":"quantitative"},"text":{"field":"t"}}},
{"data":{"values":[{"em":387,"exc":431,"t":"b)"}]},"mark":{"type":"text","align":"left","baseline":"middle","color":"white","fontWeight":"bold","fontStyle":"italic","fontSize":32},"encoding":{"x":{"field":"em","type":"quantitative"},"y":{"field":"exc","type":"quantitative"},"text":{"field":"t"}}},
{"data":{"values":[{"em":696,"exc":267,"t":"MeCN"}]},"mark":{"type":"text","align":"right","baseline":"middle","color":"white","fontWeight":"bold","fontSize":23},"encoding":{"x":{"field":"em","type":"quantitative"},"y":{"field":"exc","type":"quantitative"},"text":{"field":"t"}}},
{"data":{"name":"bar233"},"mark":{"type":"rect"},"encoding":{"x":{"datum":710},"x2":{"datum":728},"y":{"field":"lo","type":"quantitative"},"y2":{"field":"hi"},"color":{"field":"s","type":"nominal","legend":null}}},
{"data":{"values":[{"x":732,"y":494.1,"t":"23"},{"x":732,"y":450.8,"t":"19"},{"x":732,"y":407.1,"t":"14"},{"x":732,"y":363.8,"t":"9"},{"x":732,"y":320,"t":"4"}]},"mark":{"type":"text","align":"left","baseline":"middle","color":"#2a2a2a","fontWeight":"bold","fontSize":20},"encoding":{"x":{"field":"x","type":"quantitative"},"y":{"field":"y","type":"quantitative"},"text":{"field":"t"}}}
]},
{"width":357,"height":273,"layer":[
{"data":{"name":"c"},"mark":{"type":"area","orient":"horizontal","interpolate":"monotone","clip":true},"encoding":{"y":{"field":"y","type":"quantitative","scale":{"domain":[250,500],"nice":false,"zero":false},"axis":{"values":[250,275,300,325,350,375,400,425,450,475,500],"labelExpr":"datum.value%50==0?datum.label:''","tickSize":{"expr":"datum.value%50==0?6:3"},"title":"Excitation (nm)","titlePadding":10,"labelPadding":3}},"x":{"field":"lo","type":"quantitative","scale":{"domain":[380,700],"nice":false,"zero":false},"axis":{"values":[400,425,450,475,500,525,550,575,600,625,650,675,700],"labelExpr":"datum.value%50==0?datum.label:''","tickSize":{"expr":"datum.value%50==0?6:3"},"title":"Emission (nm)","titlePadding":13,"labelPadding":4}},"x2":{"field":"hi"},"color":{"field":"s","type":"nominal","legend":null,"scale":{"domain":[0,0.5,1,2,3,4,4.5,5,5.5,6,6.5,7,7.5,8,8.5,9,9.5,10,10.5,11,11.5,12],"range":["#000000","#0000ff","#0060ff","#00bfff","#00ffff","#00ffbf","#00ffbf","#00ff80","#00ff80","#00ff00","#00ff00","#80ff00","#80ff00","#ffff00","#ffff00","#ffbf00","#ffbf00","#ff8000","#ff8000","#ff4000","#ff4000","#ff0000"]}}}},
{"data":{"name":"ul"},"mark":{"type":"area","interpolate":"step-after","color":"#00008f","clip":true},"encoding":{"x":{"field":"em","type":"quantitative"},"y":{"field":"exc","type":"quantitative"},"y2":{"datum":500}}},
{"data":{"name":"lr"},"mark":{"type":"area","interpolate":"step-after","color":"#00008f","clip":true},"encoding":{"x":{"field":"em","type":"quantitative"},"y":{"field":"exc","type":"quantitative"},"y2":{"datum":250}}},
{"data":{"name":"ul"},"mark":{"type":"line","interpolate":"step-after","color":"#000000","strokeWidth":4,"clip":true},"encoding":{"x":{"field":"em","type":"quantitative"},"y":{"field":"exc","type":"quantitative"}}},
{"data":{"name":"lr"},"mark":{"type":"line","interpolate":"step-after","color":"#000000","strokeWidth":4,"clip":true},"encoding":{"x":{"field":"em","type":"quantitative"},"y":{"field":"exc","type":"quantitative"}}},
{"data":{"values":[{"em":474,"a":244,"b":500}]},"mark":{"type":"rule","color":"#000000","strokeWidth":1.3,"strokeDash":[4,4]},"encoding":{"x":{"field":"em","type":"quantitative"},"y":{"field":"a","type":"quantitative"},"y2":{"field":"b"}}},
{"data":{"values":[{"exc":396,"a":380,"b":703}]},"mark":{"type":"rule","color":"#000000","strokeWidth":1.3,"strokeDash":[4,4]},"encoding":{"y":{"field":"exc","type":"quantitative"},"x":{"field":"a","type":"quantitative"},"x2":{"field":"b"}}},
{"data":{"values":[{"em":383,"exc":486,"t":"NU-1000"}]},"mark":{"type":"text","align":"left","baseline":"middle","color":"white","fontWeight":"bold","fontSize":23},"encoding":{"x":{"field":"em","type":"quantitative"},"y":{"field":"exc","type":"quantitative"},"text":{"field":"t"}}},
{"data":{"values":[{"em":387,"exc":431,"t":"c)"}]},"mark":{"type":"text","align":"left","baseline":"middle","color":"white","fontWeight":"bold","fontStyle":"italic","fontSize":32},"encoding":{"x":{"field":"em","type":"quantitative"},"y":{"field":"exc","type":"quantitative"},"text":{"field":"t"}}},
{"data":{"values":[{"em":696,"exc":267,"t":"3-MePent"}]},"mark":{"type":"text","align":"right","baseline":"middle","color":"white","fontWeight":"bold","fontSize":23},"encoding":{"x":{"field":"em","type":"quantitative"},"y":{"field":"exc","type":"quantitative"},"text":{"field":"t"}}},
{"data":{"name":"bar233"},"mark":{"type":"rect"},"encoding":{"x":{"datum":710},"x2":{"datum":728},"y":{"field":"lo","type":"quantitative"},"y2":{"field":"hi"},"color":{"field":"s","type":"nominal","legend":null}}},
{"data":{"values":[{"x":732,"y":494.8,"t":"22"},{"x":732,"y":451.5,"t":"18"},{"x":732,"y":407.8,"t":"13"},{"x":732,"y":365.4,"t":"9"},{"x":732,"y":321.7,"t":"4"}]},"mark":{"type":"text","align":"left","baseline":"middle","color":"#2a2a2a","fontWeight":"bold","fontSize":20},"encoding":{"x":{"field":"x","type":"quantitative"},"y":{"field":"y","type":"quantitative"},"text":{"field":"t"}}}
]},
{"width":357,"height":273,"layer":[
{"data":{"name":"d"},"mark":{"type":"area","orient":"horizontal","interpolate":"monotone","clip":true},"encoding":{"y":{"field":"y","type":"quantitative","scale":{"domain":[250,500],"nice":false,"zero":false},"axis":{"values":[250,275,300,325,350,375,400,425,450,475,500],"labelExpr":"datum.value%50==0?datum.label:''","tickSize":{"expr":"datum.value%50==0?6:3"},"title":"Excitation (nm)","titlePadding":10,"labelPadding":3}},"x":{"field":"lo","type":"quantitative","scale":{"domain":[380,700],"nice":false,"zero":false},"axis":{"values":[400,425,450,475,500,525,550,575,600,625,650,675,700],"labelExpr":"datum.value%50==0?datum.label:''","tickSize":{"expr":"datum.value%50==0?6:3"},"title":"Emission (nm)","titlePadding":13,"labelPadding":4}},"x2":{"field":"hi"},"color":{"field":"s","type":"nominal","legend":null,"scale":{"domain":[0,0.5,1,2,3,4,4.5,5,5.5,6,6.5,7,7.5,8,8.5,9,9.5,10,10.5,11,11.5,12],"range":["#000000","#0000ff","#0060ff","#00bfff","#00ffff","#00ffbf","#00ffbf","#00ff80","#00ff80","#00ff00","#00ff00","#80ff00","#80ff00","#ffff00","#ffff00","#ffbf00","#ffbf00","#ff8000","#ff8000","#ff4000","#ff4000","#ff0000"]}}}},
{"data":{"name":"ul"},"mark":{"type":"area","interpolate":"step-after","color":"#00008f","clip":true},"encoding":{"x":{"field":"em","type":"quantitative"},"y":{"field":"exc","type":"quantitative"},"y2":{"datum":500}}},
{"data":{"name":"lr"},"mark":{"type":"area","interpolate":"step-after","color":"#00008f","clip":true},"encoding":{"x":{"field":"em","type":"quantitative"},"y":{"field":"exc","type":"quantitative"},"y2":{"datum":250}}},
{"data":{"name":"ul"},"mark":{"type":"line","interpolate":"step-after","color":"#000000","strokeWidth":4,"clip":true},"encoding":{"x":{"field":"em","type":"quantitative"},"y":{"field":"exc","type":"quantitative"}}},
{"data":{"name":"lr"},"mark":{"type":"line","interpolate":"step-after","color":"#000000","strokeWidth":4,"clip":true},"encoding":{"x":{"field":"em","type":"quantitative"},"y":{"field":"exc","type":"quantitative"}}},
{"data":{"values":[{"em":474,"a":244,"b":500}]},"mark":{"type":"rule","color":"#000000","strokeWidth":1.3,"strokeDash":[4,4]},"encoding":{"x":{"field":"em","type":"quantitative"},"y":{"field":"a","type":"quantitative"},"y2":{"field":"b"}}},
{"data":{"values":[{"exc":431,"a":380,"b":703},{"exc":396,"a":380,"b":703}]},"mark":{"type":"rule","color":"#000000","strokeWidth":1.3,"strokeDash":[4,4]},"encoding":{"y":{"field":"exc","type":"quantitative"},"x":{"field":"a","type":"quantitative"},"x2":{"field":"b"}}},
{"data":{"values":[{"em":383,"exc":486,"t":"NU-1000"}]},"mark":{"type":"text","align":"left","baseline":"middle","color":"white","fontWeight":"bold","fontSize":23},"encoding":{"x":{"field":"em","type":"quantitative"},"y":{"field":"exc","type":"quantitative"},"text":{"field":"t"}}},
{"data":{"values":[{"em":387,"exc":431,"t":"d)"}]},"mark":{"type":"text","align":"left","baseline":"middle","color":"white","fontWeight":"bold","fontStyle":"italic","fontSize":32},"encoding":{"x":{"field":"em","type":"quantitative"},"y":{"field":"exc","type":"quantitative"},"text":{"field":"t"}}},
{"data":{"values":[{"em":696,"exc":267,"t":"MeCN"}]},"mark":{"type":"text","align":"right","baseline":"middle","color":"white","fontWeight":"bold","fontSize":23},"encoding":{"x":{"field":"em","type":"quantitative"},"y":{"field":"exc","type":"quantitative"},"text":{"field":"t"}}},
{"data":{"name":"bar233"},"mark":{"type":"rect"},"encoding":{"x":{"datum":709},"x2":{"datum":727},"y":{"field":"lo","type":"quantitative"},"y2":{"field":"hi"},"color":{"field":"s","type":"nominal","legend":null}}},
{"data":{"values":[{"x":731,"y":494.8,"t":"9"},{"x":731,"y":451.5,"t":"7"},{"x":731,"y":407.8,"t":"5"},{"x":731,"y":365.4,"t":"3"},{"x":731,"y":321.7,"t":"1"}]},"mark":{"type":"text","align":"left","baseline":"middle","color":"#2a2a2a","fontWeight":"bold","fontSize":20},"encoding":{"x":{"field":"x","type":"quantitative"},"y":{"field":"y","type":"quantitative"},"text":{"field":"t"}}}
]}
]}
